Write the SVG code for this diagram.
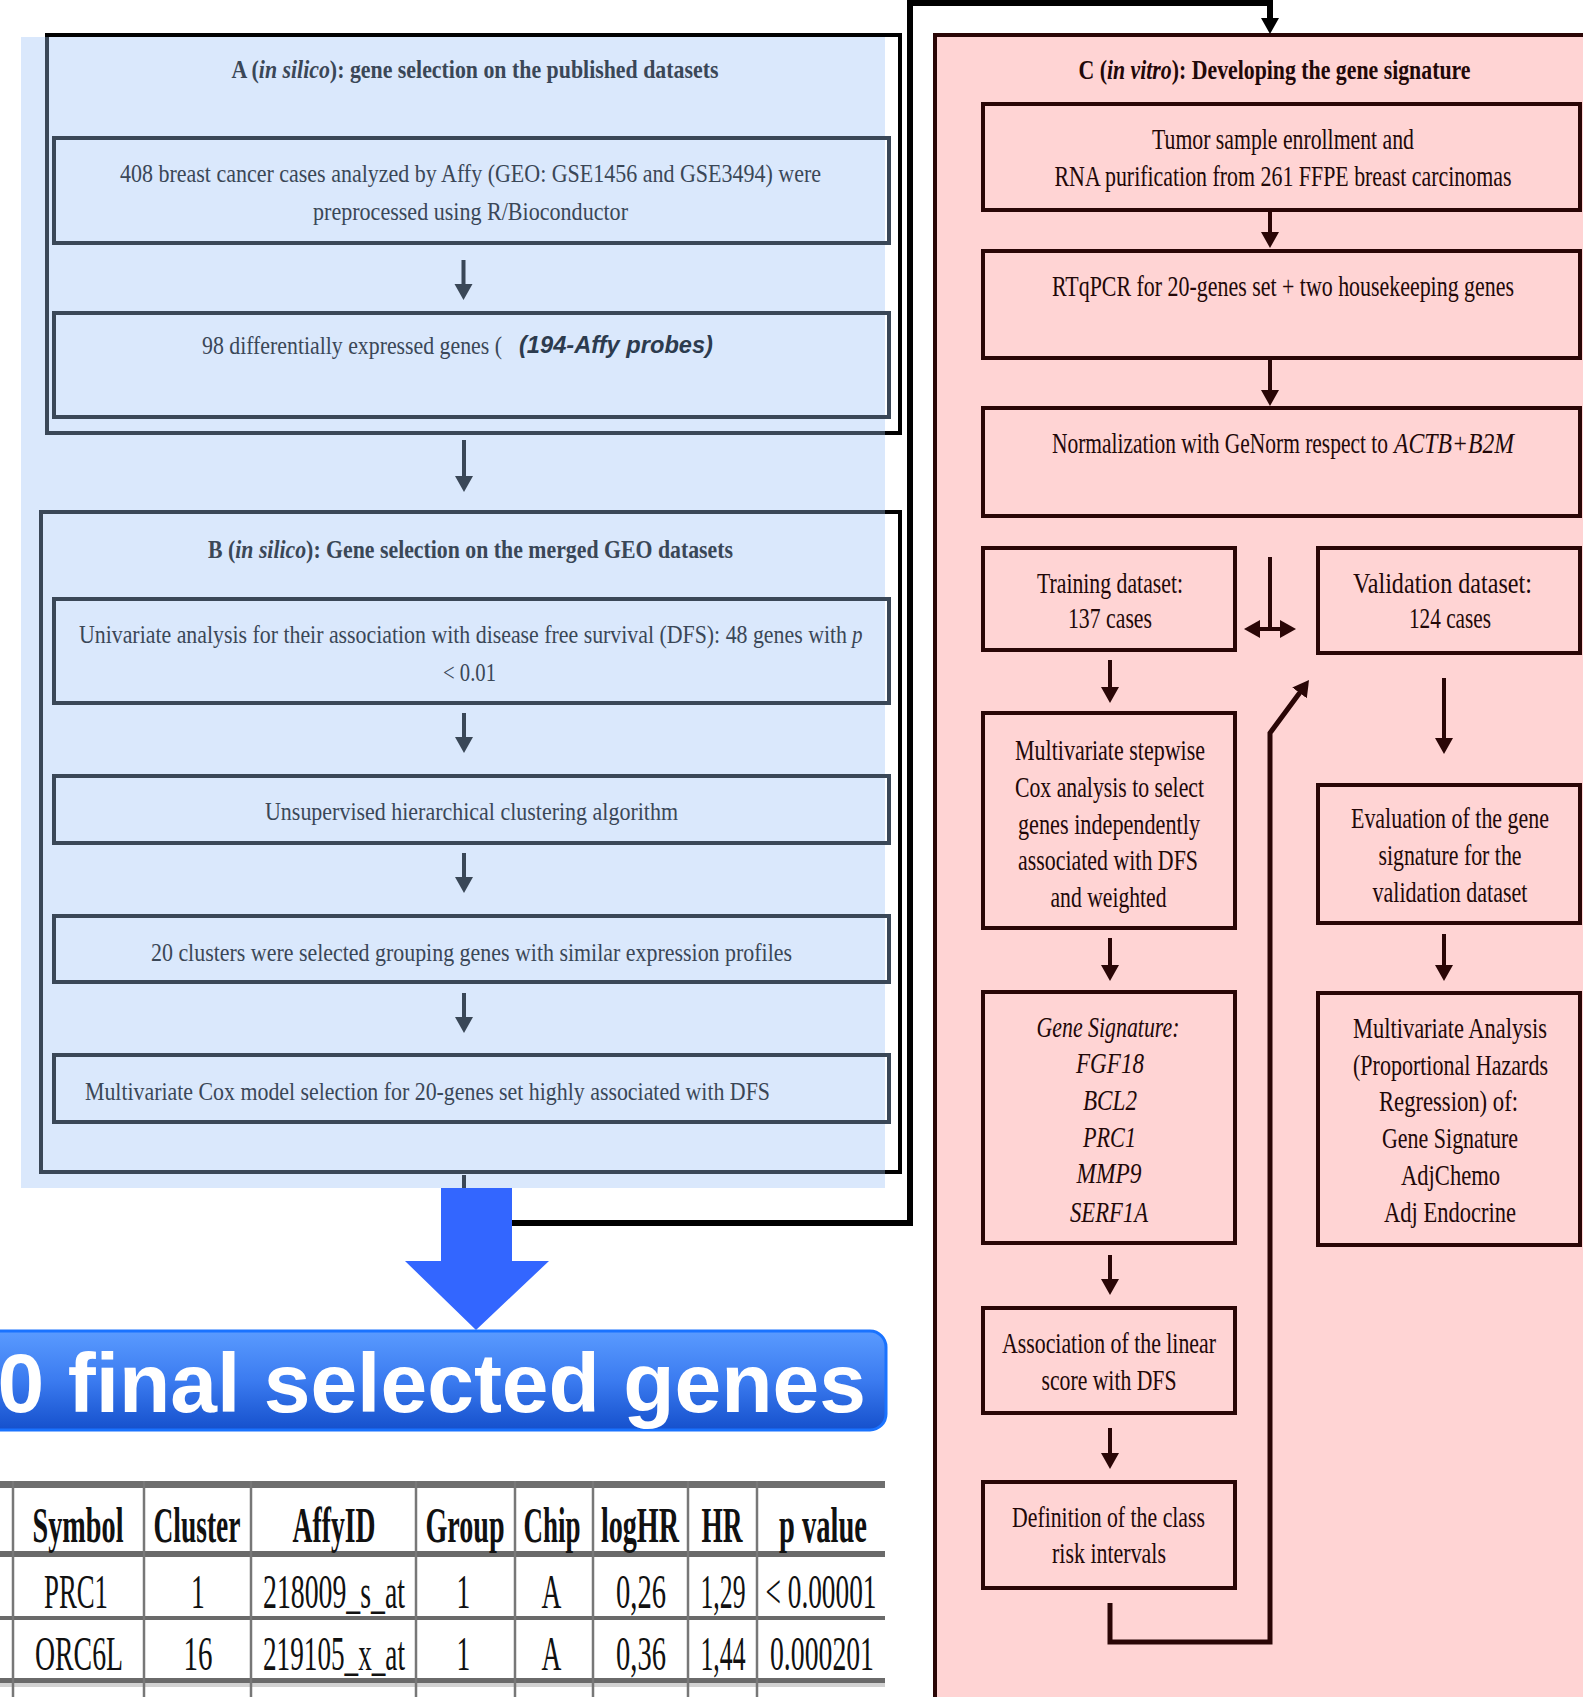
<svg xmlns="http://www.w3.org/2000/svg" width="1583" height="1697" viewBox="0 0 1583 1697">
<style>
  .lb { font-family: "Liberation Serif", "Times New Roman", serif; font-size: 21px; fill: #3a4757; text-anchor: middle; }
  .lt { font-family: "Liberation Serif", "Times New Roman", serif; font-size: 19px; font-weight: bold; fill: #3a4757; text-anchor: middle; }
  .rb { font-family: "Liberation Serif", "Times New Roman", serif; font-size: 22px; fill: #220808; text-anchor: middle; }
  .rt { font-family: "Liberation Serif", "Times New Roman", serif; font-size: 19.5px; font-weight: bold; fill: #220808; text-anchor: middle; }
  .st { text-anchor: start; }
  .it { font-style: italic; }
  .lbox { fill: none; stroke: #3a4757; stroke-width: 4; }
  .rbox { fill: #ffd4d4; stroke: #2a0606; stroke-width: 4; }
  .edge { stroke: #000; stroke-width: 4; fill: none; }
  .ls { stroke: #3a4757; stroke-width: 4; fill: none; }
  .rs { stroke: #2a0606; stroke-width: 4; fill: none; }
  .th { font-family: "Liberation Serif", "Times New Roman", serif; font-size: 28px; font-weight: bold; fill: #111; text-anchor: middle; }
  .td { font-family: "Liberation Serif", "Times New Roman", serif; font-size: 27.5px; fill: #111; text-anchor: middle; }
</style>
<defs>
  <marker id="ah-s" markerUnits="userSpaceOnUse" markerWidth="20" markerHeight="20" refX="5" refY="9" orient="auto">
    <path d="M0,0 L16,9 L0,18 z" fill="#3a4757"/>
  </marker>
  <marker id="ah-m" markerUnits="userSpaceOnUse" markerWidth="20" markerHeight="20" refX="5" refY="9" orient="auto-start-reverse">
    <path d="M0,0 L16,9 L0,18 z" fill="#2a0606"/>
  </marker>
  <marker id="ah-k" markerUnits="userSpaceOnUse" markerWidth="20" markerHeight="20" refX="5" refY="9" orient="auto">
    <path d="M0,0 L16,9 L0,18 z" fill="#000"/>
  </marker>
  <linearGradient id="bannerGrad" x1="0" y1="0" x2="0" y2="1">
    <stop offset="0" stop-color="#5a9bff"/>
    <stop offset="0.5" stop-color="#3b7bf0"/>
    <stop offset="1" stop-color="#1550cc"/>
  </linearGradient>
</defs>

<rect x="0" y="0" width="1583" height="1697" fill="#ffffff"/>

<!-- in silico background -->
<rect x="21" y="37" width="864" height="1151" fill="#dae8fc"/>

<!-- in vitro panel C -->
<g id="panelC">
  <rect x="935" y="35" width="700" height="1700" class="rbox"/>
  <text class="rt" x="1274.5" y="79" transform="matrix(1 0 0 1.35 0 -27.65)" textLength="392" lengthAdjust="spacingAndGlyphs">C (<tspan class="it">in vitro</tspan>): Developing the gene signature</text>
</g>

<!-- panel A -->
<g id="panelA">
  <rect x="47" y="35" width="853" height="398" class="lbox"/>
  <path class="edge" d="M45,35 H902 M900,33 V435 M885,433 H902"/>
  <text class="lt" x="475" y="78" transform="matrix(1 0 0 1.35 0 -27.3)" textLength="487" lengthAdjust="spacingAndGlyphs">A (<tspan class="it">in silico</tspan>): gene selection on the published datasets</text>
</g>
<g id="A1">
  <rect x="54" y="138" width="835" height="105" class="lbox"/>
  <text class="lb" x="470.5" y="182" transform="matrix(1 0 0 1.22 0 -40.04)" textLength="701" lengthAdjust="spacingAndGlyphs">408 breast cancer cases analyzed by Affy (GEO: GSE1456 and GSE3494) were</text>
  <text class="lb" x="470.5" y="220" transform="matrix(1 0 0 1.22 0 -48.4)" textLength="315" lengthAdjust="spacingAndGlyphs">preprocessed using R/Bioconductor</text>
</g>
<g id="A2">
  <rect x="54" y="313" width="835" height="104" class="lbox"/>
  <text class="lb st" x="202" y="354" transform="matrix(1 0 0 1.22 0 -77.88)" textLength="300" lengthAdjust="spacingAndGlyphs">98 differentially expressed genes (</text>
  <text x="519" y="353" font-family="Liberation Sans, Arial, sans-serif" font-size="23.5" font-weight="bold" font-style="italic" fill="#2c3b4e" textLength="194" lengthAdjust="spacingAndGlyphs">(194-Affy probes)</text>
</g>

<!-- panel B -->
<g id="panelB">
  <rect x="41" y="512" width="859" height="660" class="lbox"/>
  <path class="edge" d="M900,510 V1174 M885,512 H902 M885,1172 H902"/>
  <text class="lt" x="470.5" y="558" transform="matrix(1 0 0 1.35 0 -195.3)" textLength="525" lengthAdjust="spacingAndGlyphs">B (<tspan class="it">in silico</tspan>): Gene selection on the merged GEO datasets</text>
</g>
<g id="B1">
  <rect x="54" y="599" width="835" height="104" class="lbox"/>
  <text class="lb st" x="79" y="643" transform="matrix(1 0 0 1.22 0 -141.46)" textLength="768" lengthAdjust="spacingAndGlyphs">Univariate analysis for their association with disease free survival (DFS): 48 genes with</text>
  <text class="lb st it" x="852" y="643" transform="matrix(1 0 0 1.22 0 -141.46)">p</text>
  <text class="lb" x="469.5" y="681" transform="matrix(1 0 0 1.22 0 -149.82)" textLength="53" lengthAdjust="spacingAndGlyphs">&lt; 0.01</text>
</g>
<g id="B2">
  <rect x="54" y="776" width="835" height="67" class="lbox"/>
  <text class="lb" x="471.5" y="820" transform="matrix(1 0 0 1.22 0 -180.4)" textLength="413" lengthAdjust="spacingAndGlyphs">Unsupervised hierarchical clustering algorithm</text>
</g>
<g id="B3">
  <rect x="54" y="916" width="835" height="66" class="lbox"/>
  <text class="lb" x="471.5" y="961" transform="matrix(1 0 0 1.22 0 -211.42)" textLength="641" lengthAdjust="spacingAndGlyphs">20 clusters were selected grouping genes with similar expression profiles</text>
</g>
<g id="B4">
  <rect x="54" y="1055" width="835" height="67" class="lbox"/>
  <text class="lb st" x="85" y="1100" transform="matrix(1 0 0 1.22 0 -242)" textLength="685" lengthAdjust="spacingAndGlyphs">Multivariate Cox model selection for 20-genes set highly associated with DFS</text>
</g>

<!-- panel C nodes -->
<g id="C1">
  <rect x="983" y="104" width="597" height="106" class="rbox"/>
  <text class="rb" x="1283" y="149" transform="matrix(1 0 0 1.35 0 -52.15)" textLength="262" lengthAdjust="spacingAndGlyphs">Tumor sample enrollment and</text>
  <text class="rb" x="1283" y="186" transform="matrix(1 0 0 1.35 0 -65.1)" textLength="457" lengthAdjust="spacingAndGlyphs">RNA purification from 261 FFPE breast carcinomas</text>
</g>
<g id="C2">
  <rect x="983" y="251" width="597" height="107" class="rbox"/>
  <text class="rb" x="1283" y="296" transform="matrix(1 0 0 1.35 0 -103.6)" textLength="462" lengthAdjust="spacingAndGlyphs">RTqPCR for 20-genes set + two housekeeping genes</text>
</g>
<g id="C3">
  <rect x="983" y="408" width="597" height="108" class="rbox"/>
  <text class="rb st" x="1052" y="453" transform="matrix(1 0 0 1.35 0 -158.55)" textLength="336" lengthAdjust="spacingAndGlyphs">Normalization with GeNorm respect to</text>
  <text class="rb st it" x="1394" y="453" transform="matrix(1 0 0 1.35 0 -158.55)" textLength="120" lengthAdjust="spacingAndGlyphs">ACTB+B2M</text>
</g>
<g id="training">
  <rect x="983" y="548" width="252" height="102" class="rbox"/>
  <text class="rb" x="1110" y="593" transform="matrix(1 0 0 1.35 0 -207.55)" textLength="146" lengthAdjust="spacingAndGlyphs">Training dataset:</text>
  <text class="rb" x="1110" y="628" transform="matrix(1 0 0 1.35 0 -219.8)" textLength="84" lengthAdjust="spacingAndGlyphs">137 cases</text>
</g>
<g id="validation">
  <rect x="1318" y="548" width="262" height="105" class="rbox"/>
  <text class="rb" x="1442.5" y="593" transform="matrix(1 0 0 1.35 0 -207.55)" textLength="179" lengthAdjust="spacingAndGlyphs">Validation dataset:</text>
  <text class="rb" x="1450" y="628" transform="matrix(1 0 0 1.35 0 -219.8)" textLength="82" lengthAdjust="spacingAndGlyphs">124 cases</text>
</g>
<g id="stepwise">
  <rect x="983" y="713" width="252" height="215" class="rbox"/>
  <text class="rb" x="1110" y="760" transform="matrix(1 0 0 1.35 0 -266)" textLength="190" lengthAdjust="spacingAndGlyphs">Multivariate stepwise</text>
  <text class="rb" x="1109.5" y="797" transform="matrix(1 0 0 1.35 0 -278.95)" textLength="189" lengthAdjust="spacingAndGlyphs">Cox analysis to select</text>
  <text class="rb" x="1109" y="834" transform="matrix(1 0 0 1.35 0 -291.9)" textLength="182" lengthAdjust="spacingAndGlyphs">genes independently</text>
  <text class="rb" x="1108" y="870" transform="matrix(1 0 0 1.35 0 -304.5)" textLength="180" lengthAdjust="spacingAndGlyphs">associated with DFS</text>
  <text class="rb" x="1108.5" y="907" transform="matrix(1 0 0 1.35 0 -317.45)" textLength="116" lengthAdjust="spacingAndGlyphs">and weighted</text>
</g>
<g id="evaluation">
  <rect x="1318" y="785" width="262" height="138" class="rbox"/>
  <text class="rb" x="1450" y="828" transform="matrix(1 0 0 1.35 0 -289.8)" textLength="198" lengthAdjust="spacingAndGlyphs">Evaluation of the gene</text>
  <text class="rb" x="1450" y="865" transform="matrix(1 0 0 1.35 0 -302.75)" textLength="143" lengthAdjust="spacingAndGlyphs">signature for the</text>
  <text class="rb" x="1450" y="902" transform="matrix(1 0 0 1.35 0 -315.7)" textLength="155" lengthAdjust="spacingAndGlyphs">validation dataset</text>
</g>
<g id="signature">
  <rect x="983" y="992" width="252" height="251" class="rbox"/>
  <text class="rb it" x="1108" y="1037" transform="matrix(1 0 0 1.35 0 -362.95)" textLength="143" lengthAdjust="spacingAndGlyphs">Gene Signature:</text>
  <text class="rb it" x="1110" y="1073" transform="matrix(1 0 0 1.35 0 -375.55)" textLength="68" lengthAdjust="spacingAndGlyphs">FGF18</text>
  <text class="rb it" x="1110" y="1110" transform="matrix(1 0 0 1.35 0 -388.5)" textLength="54" lengthAdjust="spacingAndGlyphs">BCL2</text>
  <text class="rb it" x="1109.5" y="1147" transform="matrix(1 0 0 1.35 0 -401.45)" textLength="53" lengthAdjust="spacingAndGlyphs">PRC1</text>
  <text class="rb it" x="1109" y="1183" transform="matrix(1 0 0 1.35 0 -414.05)" textLength="65" lengthAdjust="spacingAndGlyphs">MMP9</text>
  <text class="rb it" x="1109" y="1222" transform="matrix(1 0 0 1.35 0 -427.7)" textLength="78" lengthAdjust="spacingAndGlyphs">SERF1A</text>
</g>
<g id="multivariate">
  <rect x="1318" y="993" width="262" height="252" class="rbox"/>
  <text class="rb" x="1450" y="1038" transform="matrix(1 0 0 1.35 0 -363.3)" textLength="194" lengthAdjust="spacingAndGlyphs">Multivariate Analysis</text>
  <text class="rb" x="1450.5" y="1075" transform="matrix(1 0 0 1.35 0 -376.25)" textLength="195" lengthAdjust="spacingAndGlyphs">(Proportional Hazards</text>
  <text class="rb" x="1448.5" y="1111" transform="matrix(1 0 0 1.35 0 -388.85)" textLength="139" lengthAdjust="spacingAndGlyphs">Regression) of:</text>
  <text class="rb" x="1450" y="1148" transform="matrix(1 0 0 1.35 0 -401.8)" textLength="136" lengthAdjust="spacingAndGlyphs">Gene Signature</text>
  <text class="rb" x="1450.5" y="1185" transform="matrix(1 0 0 1.35 0 -414.75)" textLength="99" lengthAdjust="spacingAndGlyphs">AdjChemo</text>
  <text class="rb" x="1450" y="1222" transform="matrix(1 0 0 1.35 0 -427.7)" textLength="132" lengthAdjust="spacingAndGlyphs">Adj Endocrine</text>
</g>
<g id="association">
  <rect x="983" y="1308" width="252" height="105" class="rbox"/>
  <text class="rb" x="1109" y="1353" transform="matrix(1 0 0 1.35 0 -473.55)" textLength="214" lengthAdjust="spacingAndGlyphs">Association of the linear</text>
  <text class="rb" x="1109" y="1390" transform="matrix(1 0 0 1.35 0 -486.5)" textLength="135" lengthAdjust="spacingAndGlyphs">score with DFS</text>
</g>
<g id="definition">
  <rect x="983" y="1482" width="252" height="106" class="rbox"/>
  <text class="rb" x="1108.5" y="1527" transform="matrix(1 0 0 1.35 0 -534.45)" textLength="193" lengthAdjust="spacingAndGlyphs">Definition of the class</text>
  <text class="rb" x="1109" y="1563" transform="matrix(1 0 0 1.35 0 -547.05)" textLength="114" lengthAdjust="spacingAndGlyphs">risk intervals</text>
</g>

<!-- connectors -->
<g id="connectors">
  <line class="ls" x1="463.5" y1="260" x2="463.5" y2="289" marker-end="url(#ah-s)"/>
  <line class="ls" x1="464" y1="440" x2="464" y2="481" marker-end="url(#ah-s)"/>
  <line class="ls" x1="464" y1="713" x2="464" y2="742" marker-end="url(#ah-s)"/>
  <line class="ls" x1="464" y1="853" x2="464" y2="882" marker-end="url(#ah-s)"/>
  <line class="ls" x1="464" y1="993" x2="464" y2="1022" marker-end="url(#ah-s)"/>
  <line class="ls" x1="464" y1="1175" x2="464" y2="1190"/>

  <path d="M500,1223 H910 V3 H1270 V23" stroke="#000" stroke-width="6" fill="none" marker-end="url(#ah-k)"/>

  <line class="rs" x1="1270" y1="210" x2="1270" y2="237" marker-end="url(#ah-m)"/>
  <line class="rs" x1="1270" y1="360" x2="1270" y2="395" marker-end="url(#ah-m)"/>
  <line class="rs" x1="1110" y1="660" x2="1110" y2="692" marker-end="url(#ah-m)"/>
  <line class="rs" x1="1444" y1="678" x2="1444" y2="743" marker-end="url(#ah-m)"/>
  <line class="rs" x1="1110" y1="938" x2="1110" y2="970" marker-end="url(#ah-m)"/>
  <line class="rs" x1="1444" y1="934" x2="1444" y2="970" marker-end="url(#ah-m)"/>
  <line class="rs" x1="1110" y1="1255" x2="1110" y2="1284" marker-end="url(#ah-m)"/>
  <line class="rs" x1="1110" y1="1428" x2="1110" y2="1458" marker-end="url(#ah-m)"/>
  <line class="rs" x1="1270" y1="557" x2="1270" y2="629"/>
  <line class="rs" x1="1255" y1="629" x2="1285" y2="629" marker-start="url(#ah-m)" marker-end="url(#ah-m)"/>
  <path d="M1110,1603 V1642 H1270 V733 L1302.5,688.9" stroke="#2a0606" stroke-width="5" fill="none" marker-end="url(#ah-m)"/>

  <polygon points="441,1188 512,1188 512,1261 549,1261 476,1330 405,1261 441,1261" fill="#3366ff"/>
</g>

<!-- banner -->
<g id="banner">
  <rect x="-20" y="1331" width="906" height="99" rx="16" fill="url(#bannerGrad)" stroke="#1a73ff" stroke-width="3"/>
  <text x="866" y="1412" font-family="Liberation Sans, Arial, sans-serif" font-size="84" font-weight="bold" fill="#ffffff" text-anchor="end">0 final selected genes</text>
</g>

<!-- table -->
<g id="table">
  <rect x="0" y="1481" width="885" height="7" fill="#6e6e6e"/>
  <rect x="0" y="1551" width="885" height="6" fill="#6a6a6a"/>
  <rect x="0" y="1616" width="885" height="4" fill="#6a6a6a"/>
  <rect x="0" y="1678" width="885" height="5" fill="#6a6a6a"/>
  <rect x="0" y="1683" width="885" height="4" fill="#d2d2d2"/>
  <g stroke="#777" stroke-width="2.5">
    <line x1="13" y1="1481" x2="13" y2="1697"/>
    <line x1="144" y1="1481" x2="144" y2="1697"/>
    <line x1="251" y1="1481" x2="251" y2="1697"/>
    <line x1="416" y1="1481" x2="416" y2="1697"/>
    <line x1="515" y1="1481" x2="515" y2="1697"/>
    <line x1="593" y1="1481" x2="593" y2="1697"/>
    <line x1="688" y1="1481" x2="688" y2="1697"/>
    <line x1="757" y1="1481" x2="757" y2="1697"/>
  </g>
  <text class="th" x="78" y="1542" transform="matrix(1 0 0 1.78 0 -1202.76)" textLength="91" lengthAdjust="spacingAndGlyphs">Symbol</text>
  <text class="th" x="197" y="1542" transform="matrix(1 0 0 1.78 0 -1202.76)" textLength="87" lengthAdjust="spacingAndGlyphs">Cluster</text>
  <text class="th" x="334" y="1542" transform="matrix(1 0 0 1.78 0 -1202.76)" textLength="83" lengthAdjust="spacingAndGlyphs">AffyID</text>
  <text class="th" x="465" y="1542" transform="matrix(1 0 0 1.78 0 -1202.76)" textLength="79" lengthAdjust="spacingAndGlyphs">Group</text>
  <text class="th" x="552" y="1542" transform="matrix(1 0 0 1.78 0 -1202.76)" textLength="57" lengthAdjust="spacingAndGlyphs">Chip</text>
  <text class="th" x="640" y="1542" transform="matrix(1 0 0 1.78 0 -1202.76)" textLength="78" lengthAdjust="spacingAndGlyphs">logHR</text>
  <text class="th" x="722" y="1542" transform="matrix(1 0 0 1.78 0 -1202.76)" textLength="41" lengthAdjust="spacingAndGlyphs">HR</text>
  <text class="th" x="823" y="1542" transform="matrix(1 0 0 1.78 0 -1202.76)" textLength="88" lengthAdjust="spacingAndGlyphs">p value</text>

  <text class="td" x="76" y="1608" transform="matrix(1 0 0 1.8 0 -1286.4)" textLength="64" lengthAdjust="spacingAndGlyphs">PRC1</text>
  <text class="td" x="198" y="1608" transform="matrix(1 0 0 1.8 0 -1286.4)">1</text>
  <text class="td" x="334" y="1608" transform="matrix(1 0 0 1.8 0 -1286.4)" textLength="142" lengthAdjust="spacingAndGlyphs">218009_s_at</text>
  <text class="td" x="463.5" y="1608" transform="matrix(1 0 0 1.8 0 -1286.4)">1</text>
  <text class="td" x="551.5" y="1608" transform="matrix(1 0 0 1.8 0 -1286.4)">A</text>
  <text class="td" x="641" y="1608" transform="matrix(1 0 0 1.8 0 -1286.4)" textLength="50" lengthAdjust="spacingAndGlyphs">0,26</text>
  <text class="td" x="723" y="1608" transform="matrix(1 0 0 1.8 0 -1286.4)" textLength="45" lengthAdjust="spacingAndGlyphs">1,29</text>
  <text class="td" x="821" y="1608" transform="matrix(1 0 0 1.8 0 -1286.4)" textLength="111" lengthAdjust="spacingAndGlyphs">&lt; 0.00001</text>

  <text class="td" x="79" y="1670" transform="matrix(1 0 0 1.8 0 -1336)" textLength="88" lengthAdjust="spacingAndGlyphs">ORC6L</text>
  <text class="td" x="198" y="1670" transform="matrix(1 0 0 1.8 0 -1336)" textLength="29" lengthAdjust="spacingAndGlyphs">16</text>
  <text class="td" x="334" y="1670" transform="matrix(1 0 0 1.8 0 -1336)" textLength="142" lengthAdjust="spacingAndGlyphs">219105_x_at</text>
  <text class="td" x="463.5" y="1670" transform="matrix(1 0 0 1.8 0 -1336)">1</text>
  <text class="td" x="551.5" y="1670" transform="matrix(1 0 0 1.8 0 -1336)">A</text>
  <text class="td" x="641" y="1670" transform="matrix(1 0 0 1.8 0 -1336)" textLength="50" lengthAdjust="spacingAndGlyphs">0,36</text>
  <text class="td" x="723" y="1670" transform="matrix(1 0 0 1.8 0 -1336)" textLength="45" lengthAdjust="spacingAndGlyphs">1,44</text>
  <text class="td" x="822" y="1670" transform="matrix(1 0 0 1.8 0 -1336)" textLength="104" lengthAdjust="spacingAndGlyphs">0.000201</text>
</g>
</svg>
